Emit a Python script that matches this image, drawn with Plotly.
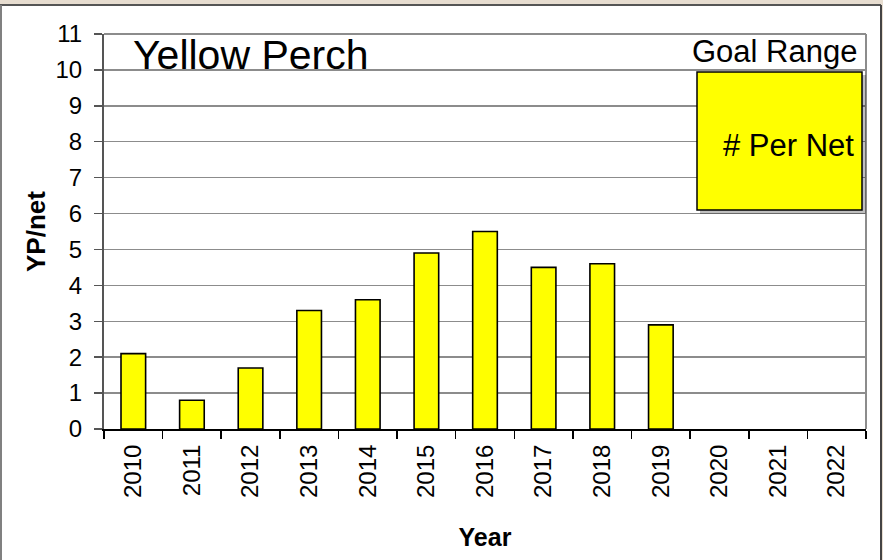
import plotly.graph_objects as go

years = ["2010", "2011", "2012", "2013", "2014", "2015", "2016",
         "2017", "2018", "2019", "2020", "2021", "2022"]
yp_per_net = [2.1, 0.8, 1.7, 3.3, 3.6, 4.9, 5.5, 4.5, 4.6, 2.9, None, None, None]
y_ticks = list(range(0, 12))

W, H = 883, 560
L, R, T, B = 104, 17, 34, 131
PW, PH = W - L - R, H - T - B

def px(x):
    return (x - L) / PW

def py(y):
    return (H - B - y) / PH

font = "Liberation Sans, Arial, sans-serif"

fig = go.Figure()
fig.add_trace(go.Bar(
    x=years, y=yp_per_net, width=0.42,
    marker=dict(color="#ffff00", line=dict(color="#000000", width=1.6)),
    showlegend=False, hoverinfo="skip",
))

shapes = []
# outer beige band + frame
shapes.append(dict(type="rect", xref="paper", yref="paper", x0=px(-5), x1=px(890), y0=py(5), y1=py(-5),
                   fillcolor="#e7ddd0", line=dict(width=0), layer="below"))
shapes.append(dict(type="rect", xref="paper", yref="paper", x0=px(882), x1=px(890), y0=py(570), y1=py(-5),
                   fillcolor="#e7ddd0", line=dict(width=0), layer="below"))
shapes.append(dict(type="line", xref="paper", yref="paper", x0=px(0), x1=px(881), y0=py(5), y1=py(5),
                   line=dict(color="#555555", width=2)))
shapes.append(dict(type="line", xref="paper", yref="paper", x0=px(1), x1=px(1), y0=py(5), y1=py(565),
                   line=dict(color="#808080", width=2)))
shapes.append(dict(type="line", xref="paper", yref="paper", x0=px(881), x1=px(881), y0=py(5), y1=py(565),
                   line=dict(color="#444444", width=2)))
# plot area border (top and right)
shapes.append(dict(type="line", xref="paper", yref="paper", x0=0, x1=1, y0=1, y1=1,
                   line=dict(color="#8c8c8c", width=2)))
shapes.append(dict(type="line", xref="paper", yref="paper", x0=1, x1=1, y0=0, y1=1,
                   line=dict(color="#8c8c8c", width=2)))
# goal range box shadow + box
shapes.append(dict(type="rect", xref="paper", yref="paper", x0=px(700), x1=px(866), y0=py(214), y1=py(75),
                   fillcolor="rgba(0,0,0,0.25)", line=dict(width=0)))
shapes.append(dict(type="rect", xref="paper", yref="paper", x0=px(697), x1=px(862), y0=py(210), y1=py(72),
                   fillcolor="#ffff00", line=dict(color="#000000", width=1.5)))

fig.update_layout(
    width=W, height=H,
    margin=dict(l=L, r=R, t=T, b=B),
    paper_bgcolor="#ffffff", plot_bgcolor="#ffffff",
    font=dict(family=font, color="#000000", size=24),
    bargap=0.58,
    hovermode=False,
    shapes=shapes,
    annotations=[
        dict(text="Yellow Perch", xref="paper", yref="paper", x=px(131), y=py(55),
             xanchor="left", yanchor="middle", showarrow=False, font=dict(size=41, family=font)),
        dict(text="Goal Range", xref="paper", yref="paper", x=px(859), y=py(51),
             xanchor="right", yanchor="middle", showarrow=False, font=dict(size=31, family=font)),
        dict(text="# Per Net", xref="paper", yref="paper", x=px(856), y=py(145),
             xanchor="right", yanchor="middle", showarrow=False, font=dict(size=31, family=font)),
    ],
    xaxis=dict(
        type="category", categoryorder="array", categoryarray=years,
        tickangle=-90, ticks="outside", tickson="boundaries", ticklen=8, tickwidth=1.5,
        tickcolor="#000000", showline=True, linecolor="#000000", linewidth=2,
        showgrid=False, tickfont=dict(size=24), ticklabelstandoff=4,
        title=dict(text="<b>Year</b>", font=dict(size=25), standoff=32),
    ),
    yaxis=dict(
        range=[0, 11], tickvals=y_ticks, ticks="outside", ticklen=8, tickwidth=1.5,
        tickcolor="#555555", showline=True, linecolor="#555555", linewidth=2,
        showgrid=True, gridcolor="#8c8c8c", gridwidth=1.5, zeroline=False,
        tickfont=dict(size=24), ticklabelstandoff=7,
        title=dict(text="<b>YP/net</b>", font=dict(size=26), standoff=2),
    ),
)

fig.write_html("out.html", config={"displayModeBar": False, "staticPlot": True},
               post_script="document.body.style.margin='0';document.body.style.overflow='hidden';")
